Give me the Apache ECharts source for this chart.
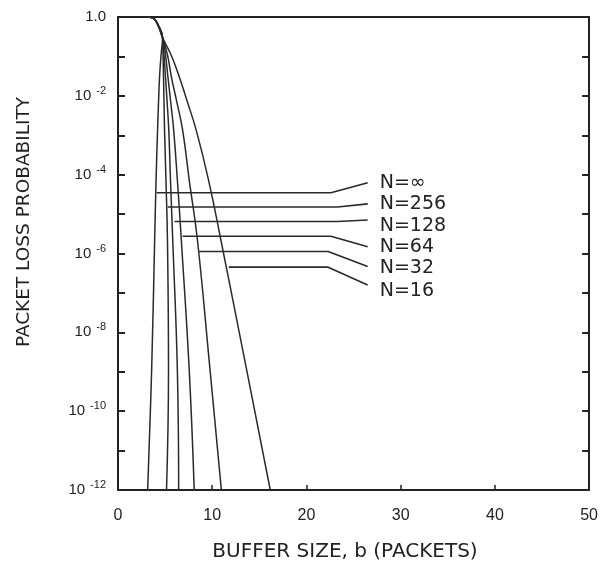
<!DOCTYPE html>
<html><head><meta charset="utf-8">
<script src="https://cdn.jsdelivr.net/npm/echarts@6/dist/echarts.min.js"></script>
<style>html,body{margin:0;padding:0;background:#fff}#c{width:601px;height:569px}</style>
</head><body><div id="c"></div>
<script>
// Loss probability levels shared by every curve (y values)
const lossLevels = [1, 0.95, 0.66, 0.3, 0.109, 3.0e-2, 7.8e-3, 1.35e-3, 7.3e-5, 2.2e-6, 1.1e-9, 1e-12];
// Buffer sizes b at those levels, one list per N
const seriesNames = ['N=∞', 'N=256', 'N=128', 'N=64', 'N=32', 'N=16'];
const bufInf = [3.0, 3.7, 4.2, 4.73, 4.57, 4.41, 4.31, 4.20, 4.04, 3.89, 3.57, 3.15];
const buf256 = [3.0, 3.7, 4.2, 4.73, 4.78, 4.83, 4.88, 4.94, 5.09, 5.25, 5.36, 5.15];
const buf128 = [3.0, 3.7, 4.2, 4.73, 4.88, 5.04, 5.20, 5.39, 5.57, 5.81, 6.30, 6.44];
const buf64  = [3.0, 3.7, 4.2, 4.73, 5.04, 5.30, 5.57, 5.91, 6.30, 6.72, 7.56, 8.09];
const buf32  = [3.0, 3.7, 4.2, 4.73, 5.25, 5.67, 6.20, 6.86, 7.56, 8.43, 9.77, 10.97];
const buf16  = [3.0, 3.7, 4.2, 4.73, 5.64, 6.51, 7.30, 8.30, 9.61, 10.92, 13.66, 16.16];
// Label leader lines [b, P]
const leaderInf = [[4.10, 3.49e-5], [22.6, 3.49e-5], [26.5, 6.2e-5]];
const leader256 = [[5.28, 1.51e-5], [23.3, 1.51e-5], [26.5, 1.82e-5]];
const leader128 = [[5.99, 6.5e-6], [23.3, 6.5e-6], [26.5, 7.1e-6]];
const leader64  = [[6.86, 2.75e-6], [22.6, 2.75e-6], [26.5, 1.48e-6]];
const leader32  = [[8.61, 1.12e-6], [22.3, 1.12e-6], [26.5, 4.7e-7]];
const leader16  = [[11.76, 4.5e-7], [22.3, 4.5e-7], [26.5, 1.58e-7]];
// Axis ticks
const xTicks = [0, 10, 20, 30, 40, 50];
const yMinExp = -12, yMaxExp = 0;
const xTitle = 'BUFFER SIZE, b (PACKETS)';
const yTitle = 'PACKET LOSS PROBABILITY';

const curves = [bufInf, buf256, buf128, buf64, buf32, buf16];
const leaders = [leaderInf, leader256, leader128, leader64, leader32, leader16];
const labelOffsets = [[4, 0], [4, 0], [4, 6], [4, 0], [4, 2], [4, 6]];

const font = '"Liberation Sans", Arial, sans-serif';
const wide = '"DejaVu Sans", sans-serif';
const ink = '#222';

const chart = echarts.init(document.getElementById('c'), null, {renderer: 'canvas'});

const series = [];
curves.forEach((b, i) => {
  series.push({
    type: 'line', name: seriesNames[i] + ' curve', smooth: 0.45, symbol: 'none',
    lineStyle: {color: '#2a2a2a', width: 1.5},
    data: b.map((v, k) => [v, lossLevels[k]]),
    z: 3
  });
});
leaders.forEach((pts, i) => {
  series.push({
    type: 'line', name: seriesNames[i], symbol: 'none',
    lineStyle: {color: '#2a2a2a', width: 1.6},
    data: pts,
    endLabel: {show: true, formatter: seriesNames[i], color: ink, fontFamily: wide,
      fontSize: 19, offset: labelOffsets[i]},
    z: 3
  });
});

const logAxisBase = {
  type: 'log', logBase: 10, min: Math.pow(10, yMinExp), max: Math.pow(10, yMaxExp),
  interval: 1, splitNumber: 12,
  axisLine: {show: true, onZero: false, lineStyle: {color: ink, width: 2}},
  axisTick: {show: true, inside: true, length: 7, lineStyle: {color: ink, width: 2}},
  splitLine: {show: false}
};

chart.setOption({
  backgroundColor: '#ffffff',
  animation: false,
  grid: {left: 118, right: 7, top: 17, bottom: 79},
  xAxis: [{
    type: 'value', min: xTicks[0], max: xTicks[xTicks.length - 1], interval: 10,
    axisLine: {onZero: false, lineStyle: {color: ink, width: 2}},
    axisTick: {show: true, inside: true, length: 5, lineStyle: {color: ink, width: 1.5}},
    splitLine: {show: false},
    axisLabel: {color: ink, fontFamily: font, fontSize: 16, margin: 18}
  }, {
    type: 'value', position: 'top', min: xTicks[0], max: xTicks[xTicks.length - 1],
    axisLine: {show: true, onZero: false, lineStyle: {color: ink, width: 2}},
    axisTick: {show: false}, axisLabel: {show: false}, splitLine: {show: false}
  }],
  yAxis: [Object.assign({}, logAxisBase, {
    axisLabel: {
      color: ink, fontFamily: font, margin: 12,
      formatter: v => {
        const e = Math.round(Math.log10(v));
        if (e % 2 !== 0) return '';
        if (e === 0) return '{b|1.0}';
        return '{b|10}{s|-' + (-e) + '}';
      },
      rich: {
        b: {fontSize: 15, fontFamily: font, color: ink},
        s: {fontSize: 11, fontFamily: font, color: ink, padding: [0, 0, 10, 5]}
      }
    }
  }), Object.assign({}, logAxisBase, {position: 'right', axisLabel: {show: false}})],
  graphic: [{
    type: 'text', x: 24, y: 222, rotation: Math.PI / 2,
    style: {text: yTitle, fill: ink, font: '18.5px ' + wide, align: 'center', verticalAlign: 'middle'}
  }, {
    type: 'text', x: 345, y: 552,
    style: {text: xTitle, fill: ink, font: '20px ' + wide, align: 'center', verticalAlign: 'middle'}
  }],
  series: series
});
</script></body></html>
